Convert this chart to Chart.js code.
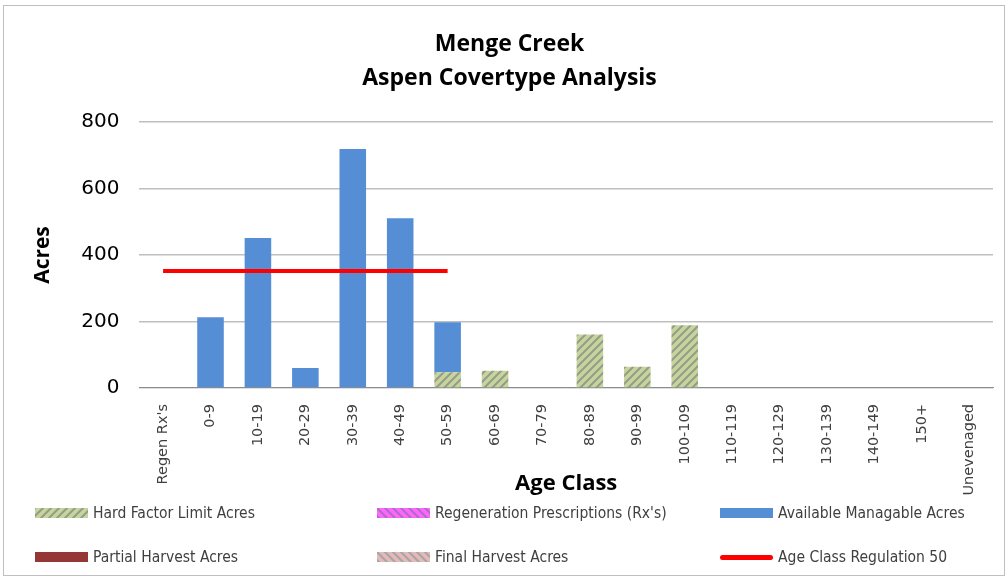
<!DOCTYPE html>
<html>
<head>
<meta charset="utf-8">
<script src="https://cdn.jsdelivr.net/npm/chart.js@4.4.0/dist/chart.umd.min.js"></script>
<style>
  html, body { margin: 0; padding: 0; background: #fff; }
  #wrap { position: relative; width: 1008px; height: 578px; }
  #frame { position: absolute; left: 3px; top: 5px; width: 1002px; height: 571px; border: 1px solid #bfbfbf; box-sizing: border-box; pointer-events: none; }
  canvas { position: absolute; left: 0; top: 0; }
  .legend { position: absolute; font-family: "Liberation Sans Narrow", "DejaVu Sans Condensed", sans-serif; font-size: 15.5px; color: #404040; }
  .item { position: absolute; display: flex; align-items: center; white-space: nowrap; }
  .sw { width: 53px; height: 10px; margin-right: 5px; }
  .ln { height: 5px; background: #ff0000; border-radius: 3px; }
</style>
</head>
<body>
<div id="wrap">
  <canvas id="chart" width="1008" height="578"></canvas>
  <div id="frame"></div>
  <div class="legend" id="legend"></div>
</div>
<script>
// Data
const ageClasses = ["Regen Rx's", '0-9', '10-19', '20-29', '30-39', '40-49', '50-59', '60-69', '70-79',
  '80-89', '90-99', '100-109', '110-119', '120-129', '130-139', '140-149', '150+', 'Unevenaged'];
const hardFactor = [0, 0, 0, 0, 0, 0, 47, 52, 0, 161, 64, 189, 0, 0, 0, 0, 0, 0];
const regenRx = [0, 0, 0, 0, 0, 0, 0, 0, 0, 0, 0, 0, 0, 0, 0, 0, 0, 0];
const available = [0, 213, 451, 60, 719, 511, 151, 0, 0, 0, 0, 0, 0, 0, 0, 0, 0, 0];
const partialHarvest = [0, 0, 0, 0, 0, 0, 0, 0, 0, 0, 0, 0, 0, 0, 0, 0, 0, 0];
const finalHarvest = [0, 0, 0, 0, 0, 0, 0, 0, 0, 0, 0, 0, 0, 0, 0, 0, 0, 0];
const regulation = [352, 352, 352, 352, 352, 352, 352, null, null, null, null, null, null, null, null, null, null, null];
const yTicks = [0, 200, 400, 600, 800];

// Hatch patterns
function makeHatch(bg, stripe, forward) {
    const c = document.createElement('canvas');
    c.width = 8; c.height = 8;
    const g = c.getContext('2d');
    g.fillStyle = bg;
    g.fillRect(0, 0, 8, 8);
    g.strokeStyle = stripe;
    g.lineWidth = 2;
    g.beginPath();
    if (forward) {
        g.moveTo(0, 8); g.lineTo(8, 0);
        g.moveTo(-2, 2); g.lineTo(2, -2);
        g.moveTo(6, 10); g.lineTo(10, 6);
    } else {
        g.moveTo(0, 0); g.lineTo(8, 8);
        g.moveTo(-2, 6); g.lineTo(2, 10);
        g.moveTo(6, -2); g.lineTo(10, 2);
    }
    g.stroke();
    return c;
}
const ctx = document.getElementById('chart').getContext('2d');
const hardCanvas = makeHatch('#c3d69b', '#9a9a8a', true);
const regenCanvas = makeHatch('#ff66ff', '#b06cc0', false);
const finalCanvas = makeHatch('#e6b9b8', '#a6a6a6', false);
const hardPat = ctx.createPattern(hardCanvas, 'repeat');
const regenPat = ctx.createPattern(regenCanvas, 'repeat');
const finalPat = ctx.createPattern(finalCanvas, 'repeat');

const barOpts = { stack: 'bars', barPercentage: 0.56, categoryPercentage: 1.0, borderWidth: 0 };

const chart = new Chart(ctx, {
    type: 'bar',
    data: {
        labels: ageClasses,
        datasets: [
            { type: 'line', label: 'Age Class Regulation 50', data: regulation, stack: 'line',
              borderColor: '#ff0000', borderWidth: 4, pointRadius: 0, fill: false, order: 0 },
            Object.assign({ label: 'Hard Factor Limit Acres', data: hardFactor, backgroundColor: hardPat, order: 1 }, barOpts),
            Object.assign({ label: "Regeneration Prescriptions (Rx's)", data: regenRx, backgroundColor: regenPat, order: 1 }, barOpts),
            Object.assign({ label: 'Available Managable Acres', data: available, backgroundColor: '#558ed5', order: 1 }, barOpts),
            Object.assign({ label: 'Partial Harvest Acres', data: partialHarvest, backgroundColor: '#953735', order: 1 }, barOpts),
            Object.assign({ label: 'Final Harvest Acres', data: finalHarvest, backgroundColor: finalPat, order: 1 }, barOpts)
        ]
    },
    options: {
        responsive: false,
        animation: false,
        layout: { padding: { left: 26, right: 15, top: 14, bottom: 77 } },
        plugins: {
            legend: { display: false },
            tooltip: { enabled: false },
            title: {
                display: true,
                text: ['Menge Creek', 'Aspen Covertype Analysis'],
                font: { family: 'Open Sans', size: 23, weight: 'bold', lineHeight: 1.48 },
                color: '#000',
                padding: { top: 13, bottom: 27 }
            }
        },
        scales: {
            x: {
                stacked: true,
                grid: { display: false },
                border: { color: '#8c8c8c', width: 1 },
                ticks: {
                    maxRotation: 90, minRotation: 90, autoSkip: false,
                    font: { family: 'DejaVu Sans', size: 14.5 }, color: '#404040', padding: 8
                },
                title: { display: true, text: 'Age Class', font: { family: 'Open Sans', size: 22, weight: 'bold' }, color: '#000', padding: { top: -33 } }
            },
            y: {
                stacked: true,
                min: 0, max: 800,
                afterBuildTicks: (axis) => { axis.ticks = yTicks.map(v => ({ value: v })); },
                grid: { color: '#bfbfbf', lineWidth: 1.5, drawTicks: false },
                border: { display: false },
                ticks: { font: { family: 'DejaVu Sans', size: 20 }, color: '#000', padding: 20 },
                title: { display: true, text: 'Acres', font: { family: 'Open Sans', size: 21, weight: 'bold' }, color: '#000', padding: { bottom: 6 } }
            }
        }
    }
});

// Legend in three columns, as in the source sheet
const legendItems = [
    { text: 'Hard Factor Limit Acres', swatch: hardCanvas, x: 35, y: 513 },
    { text: "Regeneration Prescriptions (Rx's)", swatch: regenCanvas, x: 377, y: 513 },
    { text: 'Available Managable Acres', color: '#558ed5', x: 720, y: 513 },
    { text: 'Partial Harvest Acres', color: '#953735', x: 35, y: 557 },
    { text: 'Final Harvest Acres', swatch: finalCanvas, x: 377, y: 557 },
    { text: 'Age Class Regulation 50', line: true, x: 720, y: 557 }
];
const legend = document.getElementById('legend');
legendItems.forEach(it => {
    const div = document.createElement('div');
    div.className = 'item';
    div.style.left = it.x + 'px';
    div.style.top = (it.y - 9) + 'px';
    const sw = document.createElement('div');
    sw.className = 'sw' + (it.line ? ' ln' : '');
    if (it.color) sw.style.background = it.color;
    if (it.swatch) sw.style.background = 'url(' + it.swatch.toDataURL() + ')';
    div.appendChild(sw);
    const span = document.createElement('span');
    span.textContent = it.text;
    div.appendChild(span);
    legend.appendChild(div);
});
</script>
</body>
</html>
